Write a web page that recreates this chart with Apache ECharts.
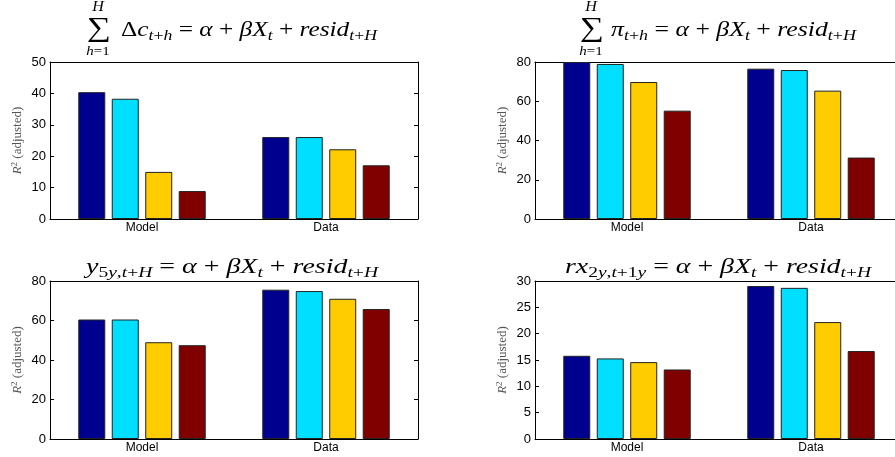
<!DOCTYPE html>
<html><head><meta charset="utf-8">
<script src="https://cdn.jsdelivr.net/npm/echarts@6/dist/echarts.min.js"></script>
<style>html,body{margin:0;padding:0;background:#fff}#c{width:895px;height:457px}</style>
</head><body><div id="c"></div>
<script>
// ---- data ----
const categories = ['Model', 'Data'];
const barColors = ['#00008F', '#00DFFF', '#FFCC00', '#800000'];
// each row = one bar colour, values for [Model, Data]
const consumptionR2 = [[40.4, 26.1], [38.3, 26.1], [15.0, 22.2], [8.9, 17.1]];
const inflationR2   = [[80.0, 76.6], [79.0, 75.9], [69.8, 65.4], [55.2, 31.3]];
const yield5yR2     = [[60.5, 75.6], [60.5, 74.9], [49.0, 71.0], [47.5, 65.8]];
const excessRetR2   = [[15.8, 29.05], [15.3, 28.7], [14.6, 22.2], [13.2, 16.7]];
const yMaxes = [50, 80, 80, 30];
const yIntervals = [10, 20, 20, 5];

// ---- layout ----
const panels = [
  {data: consumptionR2, left: 50, top: 62, height: 157},
  {data: inflationR2, left: 535, top: 62, height: 157},
  {data: yield5yR2, left: 50, top: 281, height: 158},
  {data: excessRetR2, left: 535, top: 281, height: 158}
];
const PW = 368;
const SERIF = 'Liberation Serif';
const SANS = 'Liberation Sans';
const MS = 20, SS = 14;
const mathRich = {
  i: {fontFamily: SERIF, fontStyle: 'italic', fontSize: MS, lineHeight: 24, color: '#000'},
  r: {fontFamily: SERIF, fontSize: MS, lineHeight: 24, color: '#000'},
  s: {fontFamily: SERIF, fontStyle: 'italic', fontSize: SS, height: 14, lineHeight: 14, verticalAlign: 'bottom', color: '#000'},
  sr: {fontFamily: SERIF, fontSize: SS, height: 14, lineHeight: 14, verticalAlign: 'bottom', color: '#000'}
};
const rhs = '{r| = }{i|α}{r| + }{i|βX}{s|t}{r| + }{i|resid}{s|t}{sr|+}{s|H}';
const titles = [
  {text: '{r|Δ}{i|c}{s|t}{sr|+}{s|h}' + rhs, x: 121, y: 31, align: 'left', w: 256},
  {text: '{i|π}{s|t}{sr|+}{s|h}' + rhs, x: 611, y: 31, align: 'left', w: 245},
  {text: '{i|y}{sr|5}{s|y}{sr|,}{s|t}{sr|+}{s|H}' + rhs, x: 232, y: 268, align: 'center', w: 292},
  {text: '{i|rx}{sr|2}{s|y}{sr|,}{s|t}{sr|+1}{s|y}' + rhs, x: 718, y: 268, align: 'center', w: 306}
];
const sums = [{x: 99}, {x: 592}];

const grid = [], xAxis = [], yAxis = [], series = [], graphic = [];
const blk = () => ({color: '#000', width: 1});
panels.forEach((p, k) => {
  grid.push({left: p.left, top: p.top, width: PW, height: p.height, containLabel: false, outerBoundsMode: 'none'});
  xAxis.push({type: 'category', gridIndex: k, data: categories, position: 'bottom',
    axisLine: {onZero: false, lineStyle: blk()}, axisTick: {inside: true, alignWithLabel: true, length: 4, lineStyle: blk()},
    axisLabel: {fontFamily: SANS, fontSize: 12, color: '#000', margin: 3}, splitLine: {show: false}});
  xAxis.push({type: 'category', gridIndex: k, data: categories, position: 'top',
    axisLine: {onZero: false, lineStyle: blk()}, axisTick: {inside: true, alignWithLabel: true, length: 4, lineStyle: blk()},
    axisLabel: {show: false}, splitLine: {show: false}});
  yAxis.push({type: 'value', gridIndex: k, min: 0, max: yMaxes[k], interval: yIntervals[k], position: 'left',
    axisLine: {show: true, onZero: false, lineStyle: blk()}, axisTick: {show: true, inside: true, length: 4, lineStyle: blk()},
    axisLabel: {fontFamily: SANS, fontSize: 13, color: '#000', margin: 4}, splitLine: {show: false},
    name: '{ri|R}{sup|2}{rn| (adjusted)}', nameLocation: 'middle', nameGap: 24, nameRotate: 90,
    nameTextStyle: {rich: {
      ri: {fontFamily: SERIF, fontStyle: 'italic', fontSize: 13, lineHeight: 16, color: '#555'},
      sup: {fontFamily: SERIF, fontSize: 9, height: 9, lineHeight: 9, verticalAlign: 'top', color: '#555'},
      rn: {fontFamily: SERIF, fontSize: 13, lineHeight: 16, color: '#555'}}}});
  yAxis.push({type: 'value', gridIndex: k, min: 0, max: yMaxes[k], interval: yIntervals[k], position: 'right',
    axisLine: {show: true, onZero: false, lineStyle: blk()}, axisTick: {show: true, inside: true, length: 4, lineStyle: blk()},
    axisLabel: {show: false}, splitLine: {show: false}});
  p.data.forEach((vals, j) => {
    series.push({type: 'bar', xAxisIndex: 2 * k, yAxisIndex: 2 * k, data: vals,
      barWidth: 27, barGap: '24%', clip: true,
      itemStyle: {color: barColors[j], borderColor: '#222', borderWidth: 1}, silent: true, animation: false});
  });
});

const chart = echarts.init(document.getElementById('c'), null, {renderer: 'canvas'});
// measure natural widths of the formula texts to stretch them to the reference widths
function textWidth(t) {
  const el = new echarts.graphic.Text({style: {text: t, rich: mathRich}});
  return el.getBoundingRect().width;
}
titles.forEach(t => {
  const sx = t.w / textWidth(t.text);
  graphic.push({type: 'text', x: t.x, y: t.y, scaleX: sx, silent: true,
    style: {text: t.text, rich: mathRich, align: t.align, verticalAlign: 'middle', fill: '#000'}});
});
sums.forEach(s => {
  graphic.push({type: 'text', x: s.x, y: 29, scaleX: 1.25, silent: true,
    style: {text: '∑', fontFamily: SERIF, fontSize: 27, align: 'center', verticalAlign: 'middle', fill: '#000'}});
  graphic.push({type: 'text', x: s.x - 1, y: 7, silent: true, scaleX: 1.15,
    style: {text: 'H', fontFamily: SERIF, fontStyle: 'italic', fontSize: 14, align: 'center', verticalAlign: 'middle', fill: '#000'}});
  graphic.push({type: 'text', x: s.x - 1, y: 52, silent: true, scaleX: 1.15,
    style: {text: '{a|h}{b|=1}', rich: {a: {fontFamily: SERIF, fontStyle: 'italic', fontSize: 13}, b: {fontFamily: SERIF, fontSize: 13}},
      align: 'center', verticalAlign: 'middle', fill: '#000'}});
});

chart.setOption({animation: false, backgroundColor: '#fff', grid, xAxis, yAxis, series, graphic});
</script></body></html>
